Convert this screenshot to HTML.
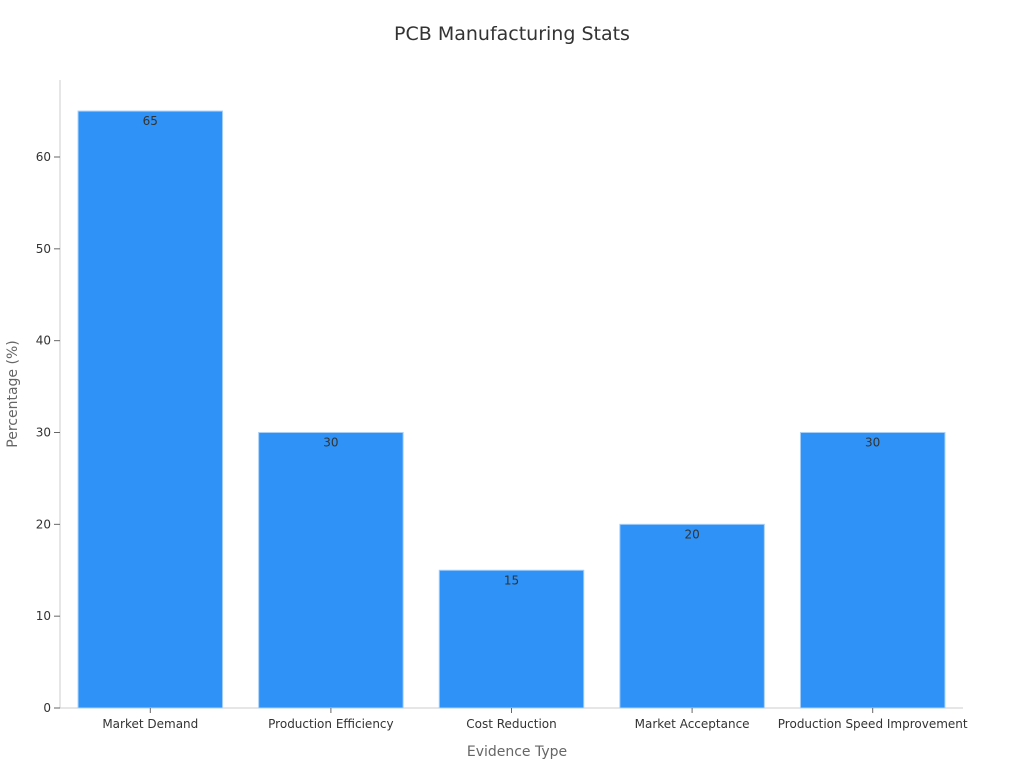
<!DOCTYPE html>
<html><head><meta charset="utf-8"><style>
body{margin:0;background:#fff;}
svg text{font-family:"DejaVu Sans","Liberation Sans",sans-serif;}
</style></head><body>
<svg id="c" width="1024" height="768" xmlns="http://www.w3.org/2000/svg">
<text x="512" y="40" text-anchor="middle" font-size="19" fill="#333">PCB Manufacturing Stats</text>
<text x="517" y="756" text-anchor="middle" font-size="14" fill="#666">Evidence Type</text>
<text transform="translate(17,394) rotate(-90)" text-anchor="middle" font-size="14" fill="#666">Percentage (%)</text>
<g id="g"></g>
</svg>
<script>
const categories=["Market Demand","Production Efficiency","Cost Reduction","Market Acceptance","Production Speed Improvement"];
const values=[65,30,15,20,30];
const yTicks=[0,10,20,30,40,50,60];
const x0=60,x1=963,y0=708,yTop=80;
const yScale=v=>y0-v*(y0-157)/60;
const band=(x1-x0)/categories.length;
const xCenter=i=>x0+band*(i+0.5);
const bw=band*0.8;
const g=document.getElementById('g');
const NS="http://www.w3.org/2000/svg";
function mk(t,a){const e=document.createElementNS(NS,t);for(const k in a)e.setAttribute(k,a[k]);g.appendChild(e);return e;}
let ax=mk('line',{x1:x0,y1:yTop,x2:x0,y2:y0,stroke:'#ccc'});


let bx=mk('line',{x1:x0,y1:y0,x2:x1,y2:y0,stroke:'#ccc'});


yTicks.forEach(v=>{
 const y=yScale(v);
 const t=mk('line',{x1:x0-6,y1:y,x2:x0,y2:y,stroke:'#666'});
 
 
 const l=mk('text',{x:x0-9,y:y+4,'text-anchor':'end','font-size':12,fill:'#333'});
 l.textContent=v;
 
 
});
categories.forEach((c,i)=>{
 const cx=xCenter(i),y=yScale(values[i]);
 const r=mk('rect',{x:cx-bw/2,y:y,width:bw,height:y0-y,fill:'#2f92f6',stroke:'#a8cff8','stroke-width':1});
 
 
 const v=mk('text',{x:cx,y:y+14,'text-anchor':'middle','font-size':12,fill:'#333'});
 v.textContent=values[i];
 
 
 const t=mk('line',{x1:cx,y1:y0,x2:cx,y2:y0+5,stroke:'#666'});
 
 
 const l=mk('text',{x:cx,y:y0+20,'text-anchor':'middle','font-size':12,fill:'#333'});
 l.textContent=c;
 
 
});
</script>
</body></html>
